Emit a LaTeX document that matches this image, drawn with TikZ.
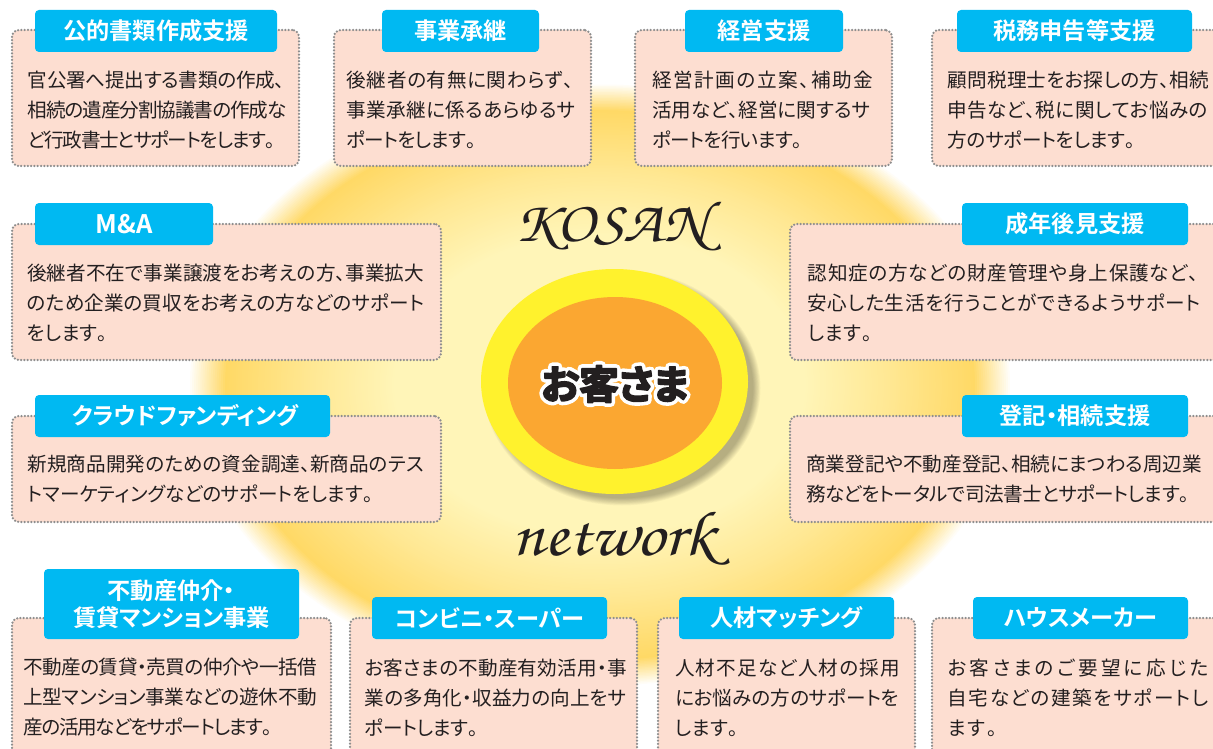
\documentclass[tikz,border=0pt]{standalone}
\usepackage{fontspec}
\usetikzlibrary{shapes.geometric}
\setmainfont{Noto Sans CJK JP}[BoldFont=Noto Sans CJK JP Bold,RawFeature=+palt]
\newfontfamily\guestfont{Noto Sans CJK JP Bold}[RawFeature=+palt]
\newfontfamily\handfont{TeX Gyre Chorus}
\definecolor{ink}{HTML}{231F20}
\definecolor{cardfill}{HTML}{FDDED1}
\definecolor{dots}{HTML}{8E8E8E}
\definecolor{headblue}{HTML}{00B9F2}
\definecolor{ringy}{HTML}{FFF22D}
\definecolor{coreo}{HTML}{FBA731}
\tikzset{
 x=1pt,y=-1pt,
 card/.style={draw=dots,fill=cardfill,rounded corners=7pt,line width=2.5pt,line cap=round,
   dash pattern=on 0pt off 3.3pt,anchor=north west,inner sep=0pt,outer sep=0pt},
 head/.style={fill=headblue,rounded corners=4pt,anchor=north west,inner sep=0pt,outer sep=0pt,text=white,align=center,
   font=\fontsize{23.2}{27}\selectfont\bfseries},
 body/.style={anchor=west,inner sep=0pt,text=ink,align=left,font=\fontsize{19.6}{30}\selectfont},
}
\newcommand\cardbox[5]{\node[card,minimum width={(#4-#2)*1pt},minimum height={(#5-#3)*1pt}] (#1) at (#2,#3) {};}
\newcommand\headbox[6]{\node[head,minimum width={(#4-#2)*1pt},minimum height={(#5-#3)*1pt}] (#1) at (#2,#3) {#6};}
% one line of text spread evenly over a given width
\makeatletter
\newcommand\fitline[2]{\makebox[#1pt][s]{\def\fit@sep{}\@tfor\fit@ch:=#2\do{\fit@sep\fit@ch\def\fit@sep{\hskip 0pt plus 1fil minus 1fil\relax}}}}
\makeatother
\begin{document}
\begin{tikzpicture}
\useasboundingbox (0,0) rectangle (1213,749);
\clip (0,0) rectangle (1213,749);
\fill[white] (0,0) rectangle (1213,749);
% glow: nested ellipses, outer to inner (f = percent)
\foreach \f in {100,99.5,...,40}{
  \pgfmathsetmacro\bl{\f>=91 ? (0.40+(\f-91)*0.0667) : (\f>=70 ? 0.40+(91-\f)*0.00857 : (\f>=50 ? 0.58+(70-\f)*0.007 : 0.72))}
  \pgfmathsetmacro\gr{\f>=91 ? (0.85+(\f-91)*0.0167) : (\f>=70 ? 0.85+(91-\f)*0.00286 : (\f>=50 ? 0.91+(70-\f)*0.0025 : 0.96))}
  \definecolor{glow}{rgb}{1,\gr,\bl}
  \fill[glow] (600,385) ellipse [x radius={4.12*\f},y radius={3.02*\f}];
}
% central ellipses
\foreach \k in {1,...,10}{
  \fill[black,opacity=0.03] (622,388) ellipse [x radius={133.5+\k*0.8-3},y radius={112.5+\k*0.8-3}];
}
\node[ellipse,fill=ringy,minimum width=267pt,minimum height=225pt,inner sep=0pt] (outer) at (614.5,381.5) {};
\node[ellipse,fill=coreo,minimum width=214pt,minimum height=172pt,inner sep=0pt] (core) at (615,383) {};
\node[inner sep=0pt,text=ink] (guest) at (615,384) {\fontsize{39.5}{42}\selectfont\guestfont
  \rlap{\special{pdf:code q 2 Tr 9 w 1 j 1 J 1 1 1 RG 1 1 1 rg}お客さま\special{pdf:code 0 Tr Q}}%
  \special{pdf:code q 2 Tr 1.8 w 1 j 1 J 0.137 0.122 0.125 RG 0.137 0.122 0.125 rg}お客さま\special{pdf:code 0 Tr Q}};

\node[inner sep=0pt,text=ink,xscale=1.1] (kosan) at (611,227) {\fontsize{58}{60}\selectfont\handfont KOSAN};
\node[inner sep=0pt,text=ink,xscale=1.09] (network) at (614,539) {\fontsize{64}{66}\selectfont\handfont network};

% cards
\cardbox{c1}{12}{30}{299}{166}
\headbox{h1}{35}{10}{277}{52}{公的書類作成支援}
\node[body] (t1) at (27.5,110) {\fitline{257}{官公署へ提出する書類の作成、}\\\fitline{259}{相続の遺産分割協議書の作成な}\\\fitline{247}{ど行政書士とサポートをします。}};

\cardbox{c2}{334}{30}{591}{166}
\headbox{h2}{382}{10}{539}{52}{事業承継}
\node[body] (t2) at (346.5,110) {\fitline{227}{後継者の有無に関わらず、}\\\fitline{229}{事業承継に係るあらゆるサ}\\\fitline{129}{ポートをします。}};

\cardbox{c3}{635}{30}{892}{166}
\headbox{h3}{685}{10}{843}{52}{経営支援}
\node[body] (t3) at (652,110) {\fitline{221}{経営計画の立案、補助金}\\\fitline{218}{活用など、経営に関するサ}\\\fitline{150}{ポートを行います。}};

\cardbox{c4}{932}{30}{1230}{166}
\headbox{h4}{957}{10}{1192}{52}{税務申告等支援}
\node[body] (t4) at (947.5,110) {\fitline{261}{顧問税理士をお探しの方、相続}\\\fitline{260}{申告など、税に関してお悩みの}\\\fitline{187}{方のサポートをします。}};

\cardbox{c5}{12}{224}{441}{360}
\headbox{h5}{35}{203}{213}{245}{\fontsize{25.5}{27}\selectfont M\&A}
\node[body] (t5) at (27,303) {\fitline{397}{後継者不在で事業譲渡をお考えの方、事業拡大}\\\fitline{397}{のため企業の買収をお考えの方などのサポート}\\\fitline{80}{をします。}};

\cardbox{c6}{790}{224}{1230}{360}
\headbox{h6}{962}{203}{1188}{245}{成年後見支援}
\node[body] (t6) at (807.5,303) {\fitline{391}{認知症の方などの財産管理や身上保護など、}\\\fitline{393}{安心した生活を行うことができるようサポート}\\\fitline{64}{します。}};

\cardbox{c7}{12}{416}{441}{522}
\headbox{h7}{35}{395}{330}{437}{\hspace{6pt}クラウドファンディング}
\node[body] (t7) at (27.5,479) {\fitline{396}{新規商品開発のための資金調達、新商品のテス}\\\fitline{345}{トマーケティングなどのサポートをします。}};

\cardbox{c8}{790}{416}{1230}{522}
\headbox{h8}{962}{395}{1188}{437}{登記・相続支援}
\node[body] (t8) at (806,479) {\fitline{396}{商業登記や不動産登記、相続にまつわる周辺業}\\\fitline{383}{務などをトータルで司法書士とサポートします。}};

\cardbox{c9}{12}{618}{331}{770}
\headbox{h9}{44}{569}{299}{639}{不動産仲介・\\賃貸マンション事業}
\node[body] (t9) at (23,697.5) {\fitline{294}{不動産の賃貸・売買の仲介や一括借}\\\fitline{294}{上型マンション事業などの遊休不動}\\\fitline{249}{産の活用などをサポートします。}};

\cardbox{c10}{350}{618}{637}{770}
\headbox{h10}{372}{597}{607}{639}{コンビニ・スーパー}
\node[body] (t10) at (364.5,697.5) {\fitline{262}{お客さまの不動産有効活用・事}\\\fitline{262}{業の多角化・収益力の向上をサ}\\\fitline{113}{ポートします。}};

\cardbox{c11}{658}{618}{915}{770}
\headbox{h11}{679}{597}{894}{639}{人材マッチング}
\node[body] (t11) at (675,697.5) {\fitline{225}{人材不足など人材の採用}\\\fitline{224}{にお悩みの方のサポートを}\\\fitline{63}{します。}};

\cardbox{c12}{932}{618}{1230}{770}
\headbox{h12}{973}{597}{1188}{639}{ハウスメーカー}
\node[body] (t12) at (947.5,697.5) {\fitline{261}{お客さまのご要望に応じた}\\\fitline{261}{自宅などの建築をサポートし}\\\fitline{49}{ます。}};
\end{tikzpicture}
\end{document}
